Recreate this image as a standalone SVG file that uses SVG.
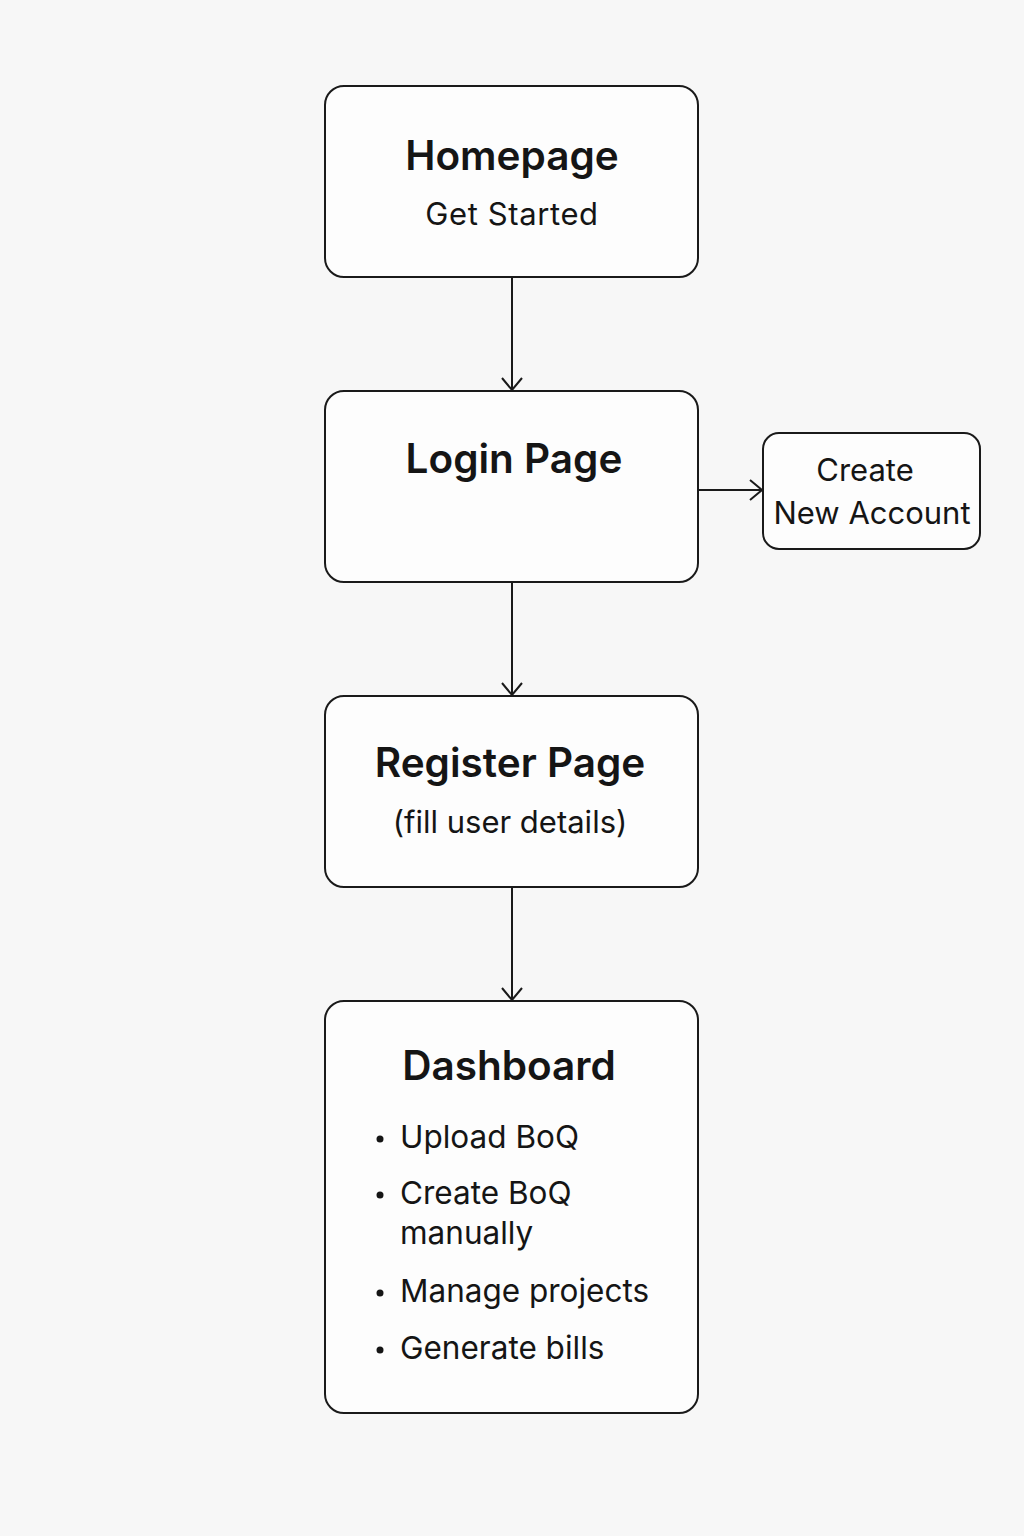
<svg xmlns="http://www.w3.org/2000/svg" width="1024" height="1536" viewBox="0 0 1024 1536">
<style>
.box{fill:#fdfdfd;stroke:#1a1a1a;stroke-width:2}
.t{font-family:Inter,"Noto Sans","Liberation Sans",sans-serif;fill:#151515}
.title{font-size:40.5px;font-weight:600;text-anchor:middle}
.sub{font-size:31px;font-weight:400;text-anchor:middle}
.li{font-size:31.5px;font-weight:400}
.edge{stroke:#1a1a1a;stroke-width:2;fill:none}
</style>
<defs>
<marker id="arr" viewBox="0 0 14 22" refX="13" refY="11" markerWidth="14" markerHeight="22" markerUnits="userSpaceOnUse" orient="auto">
<path d="M1,1 L13,11 L1,21" fill="none" stroke="#1a1a1a" stroke-width="2"/>
</marker>
</defs>
<rect width="1024" height="1536" fill="#f7f7f7"/>
<g id="connectors">
<line class="edge" x1="512" y1="278" x2="512" y2="390" marker-end="url(#arr)"/>
<line class="edge" x1="512" y1="583" x2="512" y2="695" marker-end="url(#arr)"/>
<line class="edge" x1="512" y1="888" x2="512" y2="1000" marker-end="url(#arr)"/>
<line class="edge" x1="699" y1="490" x2="762" y2="490" marker-end="url(#arr)"/>
</g>
<g id="homepage">
<rect class="box" x="325" y="86" width="373" height="191" rx="19"/>
<text class="t title" x="512" y="170">Homepage</text>
<text class="t sub" x="512" y="225" letter-spacing="0.6">Get Started</text>
</g>
<g id="login">
<rect class="box" x="325" y="391" width="373" height="191" rx="19"/>
<text class="t title" x="514" y="473">Login Page</text>
</g>
<g id="create-account">
<rect class="box" x="763" y="433" width="217" height="116" rx="16"/>
<text class="t sub" x="865" y="481" font-weight="500">Create</text>
<text class="t sub" x="872" y="524" font-weight="500">New Account</text>
</g>
<g id="register">
<rect class="box" x="325" y="696" width="373" height="191" rx="19"/>
<text class="t title" x="510" y="777">Register Page</text>
<text class="t sub" x="510" y="833">(fill user details)</text>
</g>
<g id="dashboard">
<rect class="box" x="325" y="1001" width="373" height="412" rx="19"/>
<text class="t title" x="509" y="1080">Dashboard</text>
<circle cx="380" cy="1139" r="3.5" fill="#151515"/>
<text class="t li" x="400" y="1148">Upload BoQ</text>
<circle cx="380" cy="1195" r="3.5" fill="#151515"/>
<text class="t li" x="400" y="1204">Create BoQ</text>
<text class="t li" x="400" y="1244">manually</text>
<circle cx="380" cy="1293" r="3.5" fill="#151515"/>
<text class="t li" x="400" y="1302">Manage projects</text>
<circle cx="380" cy="1350" r="3.5" fill="#151515"/>
<text class="t li" x="400" y="1359">Generate bills</text>
</g>
</svg>
